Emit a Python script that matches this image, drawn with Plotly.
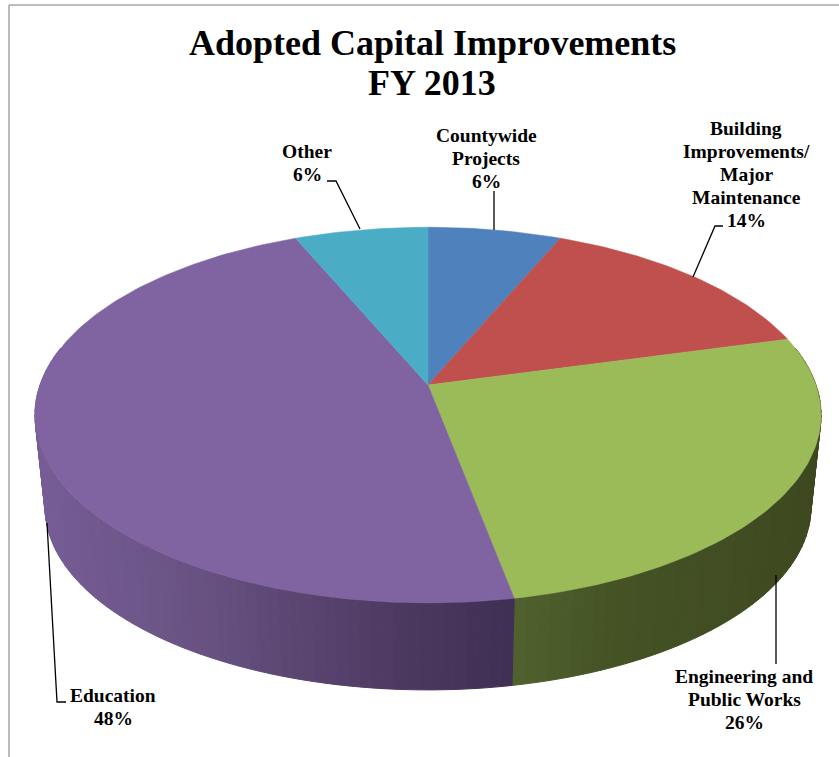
import math
import plotly.graph_objects as go

# ---- data ----
categories = ["Countywide Projects", "Building Improvements/ Major Maintenance",
              "Engineering and Public Works", "Education", "Other"]
slice_sizes = [6.4, 14.4, 26.2, 46.6, 6.4]      # geometry
printed_percent = ["6%", "14%", "26%", "48%", "6%"]  # as printed on the labels
top_colors = ["#4f81bd", "#c0504d", "#9bbb59", "#8064a2", "#4bacc6"]
title_lines = ["Adopted Capital Improvements", "FY 2013"]

# ---- style / layout constants (page pixels of the reference) ----
W, H = 839, 757
CX, TOP_CY, BOT_CY = 428, 385, 478
RX_TOP, RY_TOP, RX_BOT, RY_BOT, PERSP = 388, 183, 378, 178, 0.16
FONT = "Liberation Serif"
LABEL_STEP = 23
wall_stops = {
    2: [(515, (80, 97, 46)), (620, (68, 82, 36)), (820, (62, 72, 32))],
    3: [(40, (118, 93, 150)), (200, (104, 82, 130)), (400, (76, 57, 96)), (515, (64, 47, 84))],
}
label_style = dict(size=19.5, color="#000000", family=FONT)
labels = [  # (index, text lines, centre x, centre y of first line)
    (0, ["Countywide", "Projects"], 486, 135),
    (1, ["Building", "Improvements/", "Major", "Maintenance"], 746, 128),
    (2, ["Engineering and", "Public Works"], 744, 676),
    (3, ["Education"], 113, 695),
    (4, ["Other"], 307, 151),
]
leaders = [
    [(327, 181), (336, 181), (360, 229)],
    [(494, 191), (494, 230)],
    [(723, 226), (715, 226), (693, 277)],
    [(47, 523), (57, 702), (66, 702)],
    [(776, 575), (776, 664)],
]


def project(theta, cy, rx, ry):
    """Clockwise angle from the top of the pie to a page position, with foreshortening."""
    c, s = math.sin(theta), -math.cos(theta)
    d = 1 - PERSP * s
    return CX + rx * c / d, cy + ry * s / d


def wall_color(idx, x):
    stops = wall_stops[idx]
    if x <= stops[0][0]:
        col = stops[0][1]
    elif x >= stops[-1][0]:
        col = stops[-1][1]
    else:
        for (x0, c0), (x1, c1) in zip(stops, stops[1:]):
            if x0 <= x <= x1:
                f = (x - x0) / (x1 - x0)
                col = tuple(a + (b - a) * f for a, b in zip(c0, c1))
                break
    return "rgb(%d,%d,%d)" % tuple(round(v) for v in col)


total = sum(slice_sizes)
edges = [0.0]
for v in slice_sizes:
    edges.append(edges[-1] + v / total * 2 * math.pi)

fig = go.Figure()

# side wall, drawn as narrow strips so the shading can vary along it
for i in (2, 3):
    a0, a1 = edges[i], edges[i + 1]
    lo, hi = a0, min(a1, math.radians(282))
    lo = max(lo, math.radians(78))
    n = max(6, int((hi - lo) / math.radians(1.5)))
    for j in range(n):
        t0 = lo + (hi - lo) * j / n
        t1 = lo + (hi - lo) * (j + 1) / n
        pts = [project(t0, TOP_CY, RX_TOP, RY_TOP), project(t1, TOP_CY, RX_TOP, RY_TOP),
               project(t1, BOT_CY, RX_BOT, RY_BOT), project(t0, BOT_CY, RX_BOT, RY_BOT)]
        xs, ys = zip(*pts)
        col = wall_color(i, sum(xs) / 4)
        fig.add_trace(go.Scatter(x=list(xs) + [xs[0]], y=list(ys) + [ys[0]], mode="lines",
                                 fill="toself", fillcolor=col, line=dict(color=col, width=1),
                                 hoverinfo="skip", showlegend=False))

# top face
for i, cat in enumerate(categories):
    n = max(8, int((edges[i + 1] - edges[i]) / math.radians(1)))
    arc = [project(edges[i] + (edges[i + 1] - edges[i]) * j / n, TOP_CY, RX_TOP, RY_TOP)
           for j in range(n + 1)]
    xs = [CX] + [p[0] for p in arc] + [CX]
    ys = [TOP_CY] + [p[1] for p in arc] + [TOP_CY]
    fig.add_trace(go.Scatter(x=xs, y=ys, mode="lines", fill="toself", fillcolor=top_colors[i],
                             line=dict(color=top_colors[i], width=0.5), name=cat,
                             hoverinfo="name", showlegend=False))

# leader lines
for pts in leaders:
    xs, ys = zip(*pts)
    fig.add_trace(go.Scatter(x=xs, y=ys, mode="lines", line=dict(color="#000000", width=1.3),
                             hoverinfo="skip", showlegend=False))

ann = []
for idx, lines, x, y in labels:
    for k, line in enumerate(lines + [printed_percent[idx]]):
        ann.append(dict(x=x, y=y + k * LABEL_STEP, xref="x", yref="y", showarrow=False,
                        xanchor="center", yanchor="middle", text="<b>%s</b>" % line, font=label_style))
for line, y in zip(title_lines, (43, 83)):
    ann.append(dict(x=432, y=y, xref="x", yref="y", showarrow=False, xanchor="center", yanchor="middle",
                    text="<b>%s</b>" % line, font=dict(size=36, color="#000000", family=FONT)))

# thin frame of the chart area
shapes = [dict(type="line", xref="x", yref="y", x0=9, y0=5, x1=9, y1=H, line=dict(color="#a6a6a6", width=1.5)),
          dict(type="line", xref="x", yref="y", x0=9, y0=5, x1=W, y1=5, line=dict(color="#a6a6a6", width=1.5))]

fig.update_layout(width=W, height=H, margin=dict(l=0, r=0, t=0, b=0), autosize=False,
                  paper_bgcolor="#ffffff", plot_bgcolor="#ffffff", annotations=ann, shapes=shapes,
                  xaxis=dict(range=[0, W], visible=False, fixedrange=True),
                  yaxis=dict(range=[H, 0], visible=False, fixedrange=True))
fig.write_html("out.html", config=dict(displayModeBar=False),
               post_script="document.body.style.margin='0';document.documentElement.style.overflow='hidden';")
